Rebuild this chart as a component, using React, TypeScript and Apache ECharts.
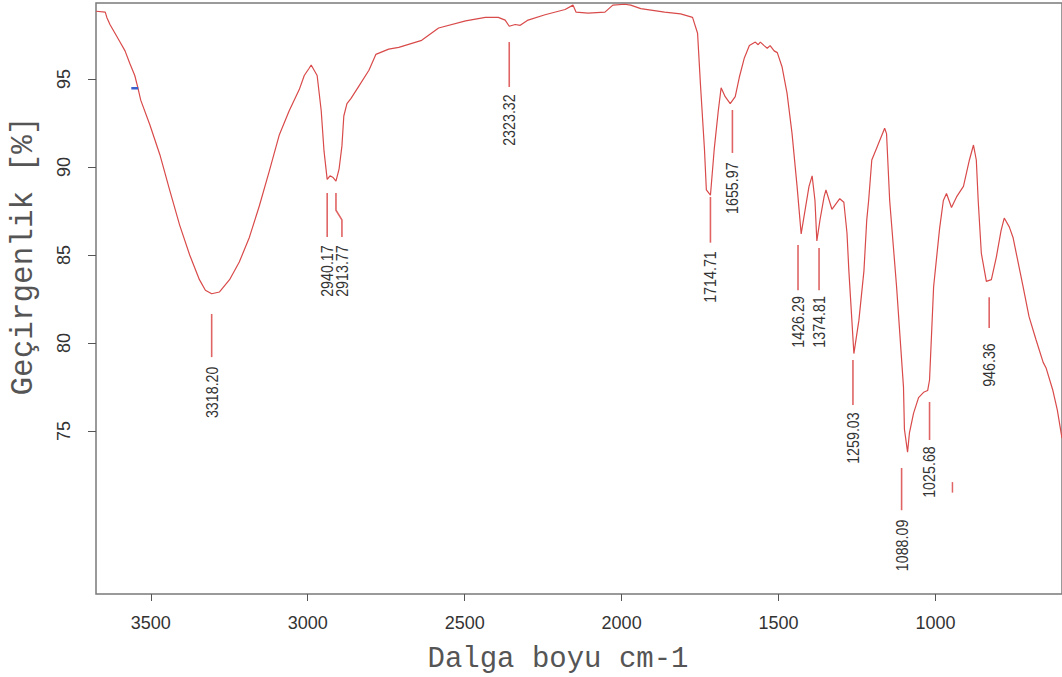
import React, { useEffect, useRef } from "react";
import * as echarts from "echarts";

// Spectrum (wavenumber cm-1, transmittance %)
const waveNumbers = [
  3674, 3645, 3640, 3630, 3614, 3598, 3582, 3567, 3551, 3541, 3532, 3503, 3471, 3440, 3408, 3376, 3345, 3326, 3306,
  3281, 3249, 3218, 3186, 3154, 3122, 3091, 3059, 3027, 3011, 2996, 2989, 2970, 2957, 2948, 2938, 2929, 2919, 2910,
  2900, 2891, 2885, 2875, 2862, 2837, 2805, 2783, 2742, 2710, 2637, 2583, 2497, 2434, 2393, 2371, 2358, 2339, 2323,
  2298, 2244, 2180, 2155, 2145, 2107, 2053, 2028, 1990, 1971, 1939, 1863, 1812, 1774, 1758, 1749, 1736, 1730, 1717,
  1705, 1692, 1683, 1670, 1654, 1638, 1625, 1609, 1593, 1574, 1565, 1558, 1546, 1536, 1527, 1514, 1504, 1489, 1473,
  1457, 1441, 1428, 1403,
  1393, 1384, 1378, 1368, 1355, 1349, 1330, 1305, 1292, 1282, 1276, 1260, 1244, 1228, 1219, 1213, 1203, 1187, 1162,
  1156, 1146, 1124, 1102, 1099, 1089, 1083, 1070, 1054, 1038, 1025, 1019, 1006, 987, 975, 965, 949, 933, 911, 892,
  879, 870, 864, 854, 838, 822, 806, 791, 781, 765, 753, 721, 702, 680, 657, 648, 626, 612, 597,
];
const transmittance = [
  98.85, 98.8, 98.5, 98.1, 97.6, 97.1, 96.6, 95.9, 95.2, 94.5, 93.8, 92.4, 90.7, 88.7, 86.7, 85.0, 83.6, 83.0, 82.8,
  82.9, 83.6, 84.6, 86.0, 87.8, 89.8, 91.8, 93.2, 94.4, 95.2, 95.6, 95.8, 95.2, 93.2, 90.9, 89.3, 89.5, 89.4, 89.2,
  89.9, 91.2, 92.9, 93.6, 93.9, 94.6, 95.5, 96.4, 96.7, 96.8, 97.2, 97.9, 98.3, 98.5, 98.5, 98.35, 98.0, 98.1, 98.05,
  98.35, 98.65, 98.95, 99.2, 98.8, 98.75, 98.8, 99.2, 99.25, 99.2, 99.0, 98.8, 98.7, 98.5, 97.6, 94.75, 91.0, 88.7, 88.4,
  91.0, 93.2, 94.5, 94.0, 93.6, 94.0, 95.1, 96.2, 96.9, 97.1, 96.95, 97.1, 96.9, 96.75, 96.9, 96.6, 96.5, 95.7, 94.2,
  91.9, 88.9, 86.2, 88.9,
  89.5, 88.1, 85.8, 87.0, 88.3, 88.7, 87.6, 88.2, 88.0, 86.25, 84.1, 79.4, 81.3, 84.1, 87.0, 88.1, 90.4, 91.1, 92.2,
  91.9, 88.1, 83.2, 77.5, 75.1, 73.8, 74.9, 76.0, 76.9, 77.2, 77.3, 77.9, 83.2, 86.5, 88.1, 88.5, 87.7, 88.3, 88.9, 90.4,
  91.25, 90.4, 88.1, 85.1, 83.5, 83.6, 84.9, 86.4, 87.1, 86.6, 86.0, 83.2, 81.5, 80.2, 78.9, 78.6, 77.3, 76.2, 74.6,
];

// Peak annotations
const peakLabels = ["3318.20", "2323.32", "2940.17", "2913.77", "1714.71", "1655.97", "1426.29", "1374.81", "1259.03", "1088.09", "1025.68", "946.36"];
const peakLineTopX = [3306, 2358, 2938, 2910, 1717, 1647, 1438, 1371, 1263, 1108, 1019, 829];
const peakLineBottomX = [3306, 2358, 2938, 2891, 1717, 1647, 1438, 1371, 1263, 1108, 1019, 829];
const peakLineTopY = [81.65, 97.1, 88.52, 88.52, 88.3, 93.24, 85.57, 85.4, 79.03, 72.9, 76.65, 82.6];
const peakLineBottomY = [79.2, 94.55, 86.02, 86.02, 85.7, 90.8, 83.0, 83.0, 76.48, 70.5, 74.49, 80.85];
const peakTextY = [77.2, 92.67, 84.09, 84.09, 83.75, 88.8, 81.2, 81.2, 74.6, 68.5, 72.67, 78.75];

const xTickValues = [3500, 3000, 2500, 2000, 1500, 1000];
const yTickValues = [75, 80, 85, 90, 95];

const blueMark = [[3562, 94.47], [3540, 94.47]];
const redMark = [[946, 72.1], [946, 71.5]];

const SANS = '"Liberation Sans", Arial, sans-serif';
const MONO = '"Liberation Mono", "Courier New", monospace';

export default function App() {
  const ref = useRef<HTMLDivElement>(null);
  useEffect(() => {
    if (!ref.current) return;
    const chart = echarts.init(ref.current, null, { renderer: "svg" });
    const curve = waveNumbers.map((w, i) => [w, transmittance[i]]);
    const annData = peakLabels.map((_, i) => [peakLineTopX[i], peakLineTopY[i], peakLineBottomX[i], peakLineBottomY[i], peakTextY[i]]);
    chart.setOption({
      animation: false,
      backgroundColor: "#ffffff",
      grid: {
        left: 96,
        right: -4,
        top: 3,
        bottom: 83,
        show: true,
        borderColor: "#7a7a7a",
        borderWidth: 1.5,
        containLabel: false,
      },
      xAxis: {
        type: "value",
        inverse: true,
        min: 597,
        max: 3674.5,
        axisLine: { show: false },
        splitLine: { show: false },
        axisTick: { show: true, customValues: xTickValues, length: 7, lineStyle: { color: "#555", width: 1 } },
        axisLabel: {
          customValues: xTickValues,
          formatter: (v: number) => String(v),
          margin: 20,
          color: "#333",
          fontSize: 18,
          fontFamily: SANS,
        },
      },
      yAxis: {
        type: "value",
        min: 65.74,
        max: 99.32,
        axisLine: { show: false },
        splitLine: { show: false },
        axisTick: { show: true, customValues: yTickValues, length: 8, lineStyle: { color: "#555", width: 1 } },
        axisLabel: {
          customValues: yTickValues,
          formatter: (v: number) => String(v),
          rotate: 90,
          margin: 23,
          color: "#333",
          fontSize: 18,
          fontFamily: SANS,
        },
      },
      graphic: [
        {
          type: "text",
          x: 558,
          y: 659,
          style: {
            text: "Dalga boyu cm-1",
            fontFamily: MONO,
            fontSize: 29,
            fill: "#555",
            align: "center",
            verticalAlign: "middle",
          },
        },
        {
          type: "text",
          x: 23,
          y: 256,
          rotation: Math.PI / 2,
          style: {
            text: "Geçirgenlik [%]",
            fontFamily: MONO,
            fontSize: 31,
            fill: "#555",
            align: "center",
            verticalAlign: "middle",
          },
        },
      ],
      series: [
        {
          type: "line",
          data: curve,
          symbol: "none",
          lineStyle: { color: "#d94a4a", width: 1.2 },
          z: 3,
        },
        {
          type: "custom",
          data: annData,
          z: 2,
          renderItem: (params: any, api: any) => {
            const i = params.dataIndex;
            const tx = api.value(0), ty = api.value(1), bx = api.value(2), by = api.value(3), textY = api.value(4);
            const yb1 = ty - (ty - by) * 0.39;
            const yb2 = ty - (ty - by) * 0.61;
            const pts = [api.coord([tx, ty]), api.coord([tx, yb1]), api.coord([bx, yb2]), api.coord([bx, by])];
            const tp = api.coord([bx, textY]);
            return {
              type: "group",
              children: [
                { type: "polyline", shape: { points: pts }, style: { stroke: "#e06464", lineWidth: 1.6, fill: "none" } },
                {
                  type: "text",
                  x: tp[0],
                  y: tp[1],
                  rotation: Math.PI / 2,
                  scaleX: 0.84,
                  style: {
                    text: peakLabels[i],
                    fontFamily: SANS,
                    fontSize: 17,
                    fill: "#333",
                    align: "center",
                    verticalAlign: "middle",
                  },
                },
              ],
            };
          },
        },
        {
          type: "line",
          data: blueMark,
          symbol: "none",
          lineStyle: { color: "#3a5fcd", width: 2.5 },
          z: 4,
        },
        {
          type: "line",
          data: redMark,
          symbol: "none",
          lineStyle: { color: "#e06464", width: 1.5 },
          z: 4,
        },
      ],
    });
    return () => chart.dispose();
  }, []);
  return (
    <div
      ref={ref}
      style={{ position: "fixed", left: 0, top: 0, width: 1062, height: 677, background: "#fff" }}
    />
  );
}
